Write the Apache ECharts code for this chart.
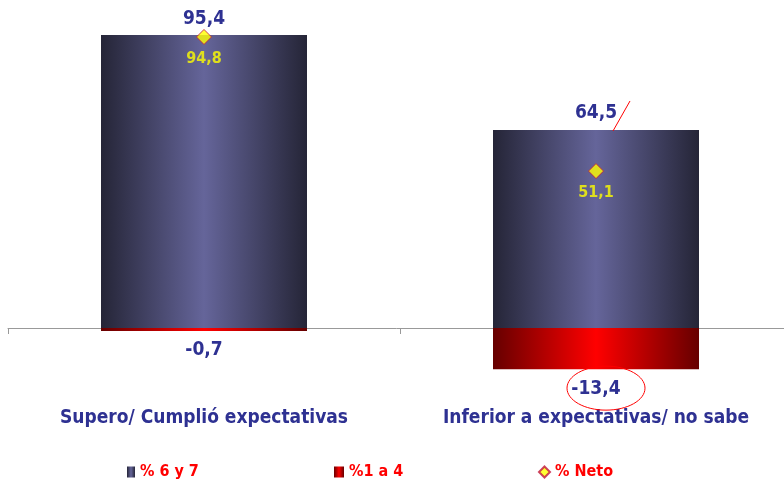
<!DOCTYPE html>
<html><head><meta charset="utf-8">
<script src="https://cdn.jsdelivr.net/npm/echarts@6/dist/echarts.min.js"></script>
<style>html,body{margin:0;padding:0;background:#fff;overflow:hidden}#c{width:784px;height:479px}</style>
</head><body><div id="c"></div>
<script>
const categories = ['Supero/ Cumplió expectativas', 'Inferior a expectativas/ no sabe'];
const pos67 = [95.4, 64.5];
const neg14 = [-0.7, -13.4];
const neto = [94.8, 51.1];
const seriesNames = ['% 6 y 7', '%1 a 4', '% Neto'];

const navy = '#2E3192';
const fmt = v => String(v).replace('.', ',');
const blueGrad = new echarts.graphic.LinearGradient(0,0,1,0,[
  {offset:0,color:'#252537'},{offset:0.5,color:'#65659A'},{offset:1,color:'#252537'}]);
const redGrad = new echarts.graphic.LinearGradient(0,0,1,0,[
  {offset:0,color:'#660000'},{offset:0.5,color:'#FF0000'},{offset:1,color:'#660000'}]);
const font = '"DejaVu Sans Condensed", "DejaVu Sans", sans-serif';

const chart = echarts.init(document.getElementById('c'));
const legendBase = {orient:'horizontal', top:459, itemWidth:8, itemHeight:11, itemGap:6, icon:'rect',
  textStyle:{color:'#FF0000', fontWeight:'bold', fontSize:16, fontFamily:font, padding:[0,0,0,0]}};
chart.setOption({
  animation:false,
  grid:{left:8, right:-8, top:21, bottom:89.6, containLabel:false, outerBoundsMode:'none'},
  legend:[
    Object.assign({}, legendBase, {left:122, data:[seriesNames[0]]}),
    Object.assign({}, legendBase, {left:329, itemWidth:10, data:[seriesNames[1]]}),
    Object.assign({}, legendBase, {left:533, icon:'diamond', itemWidth:11, itemHeight:11, data:[seriesNames[2]]})
  ],
  xAxis:{type:'category', data:categories,
    axisLine:{lineStyle:{color:'#999999', width:1}},
    axisTick:{show:true, length:6, lineStyle:{color:'#999999'}},
    axisLabel:{margin:19, color:navy, fontWeight:'bold', fontSize:19, fontFamily:font, hideOverlap:false, interval:0}},
  yAxis:{type:'value', min:-20, max:100, show:false, splitLine:{show:false}},
  series:[
    {name:seriesNames[0], type:'bar', stack:'s', data:pos67, barWidth:206,
      itemStyle:{color:blueGrad},
      label:{show:true, position:'top', distance:7, color:navy, fontWeight:'bold', fontSize:19, fontFamily:font,
        formatter:p=>fmt(p.value)}},
    {name:seriesNames[1], type:'bar', stack:'s', data:neg14, barWidth:206, barMinHeight:3,
      itemStyle:{color:redGrad},
      label:{show:true, position:'bottom', distance:10, color:navy, fontWeight:'bold', fontSize:19, fontFamily:font,
        formatter:p=>fmt(p.value)}},
    {name:seriesNames[2], type:'scatter', data:neto, symbol:'diamond', symbolSize:15,
      itemStyle:{color:'#FFFF00', borderColor:'#C0143C', borderWidth:1},
      label:{show:true, position:'bottom', distance:6, color:'#FFFF00', fontWeight:'bold', fontSize:16, fontFamily:font,
        formatter:p=>fmt(p.value)}, z:5}
  ]
});
// annotations placed relative to data
const e = chart.convertToPixel({seriesIndex:1}, [1, neg14[1]]);
const t = chart.convertToPixel({seriesIndex:0}, [1, pos67[1]]);
chart.setOption({graphic:[
  {type:'ellipse', shape:{cx:e[0]+10, cy:e[1]+19, rx:39, ry:22}, style:{fill:null, stroke:'#FF0000', lineWidth:1}, z:10},
  {type:'line', shape:{x1:t[0]+17, y1:t[1]+1, x2:t[0]+34, y2:t[1]-29}, style:{stroke:'#FF0000', lineWidth:1}, z:10}
]});
</script></body></html>
